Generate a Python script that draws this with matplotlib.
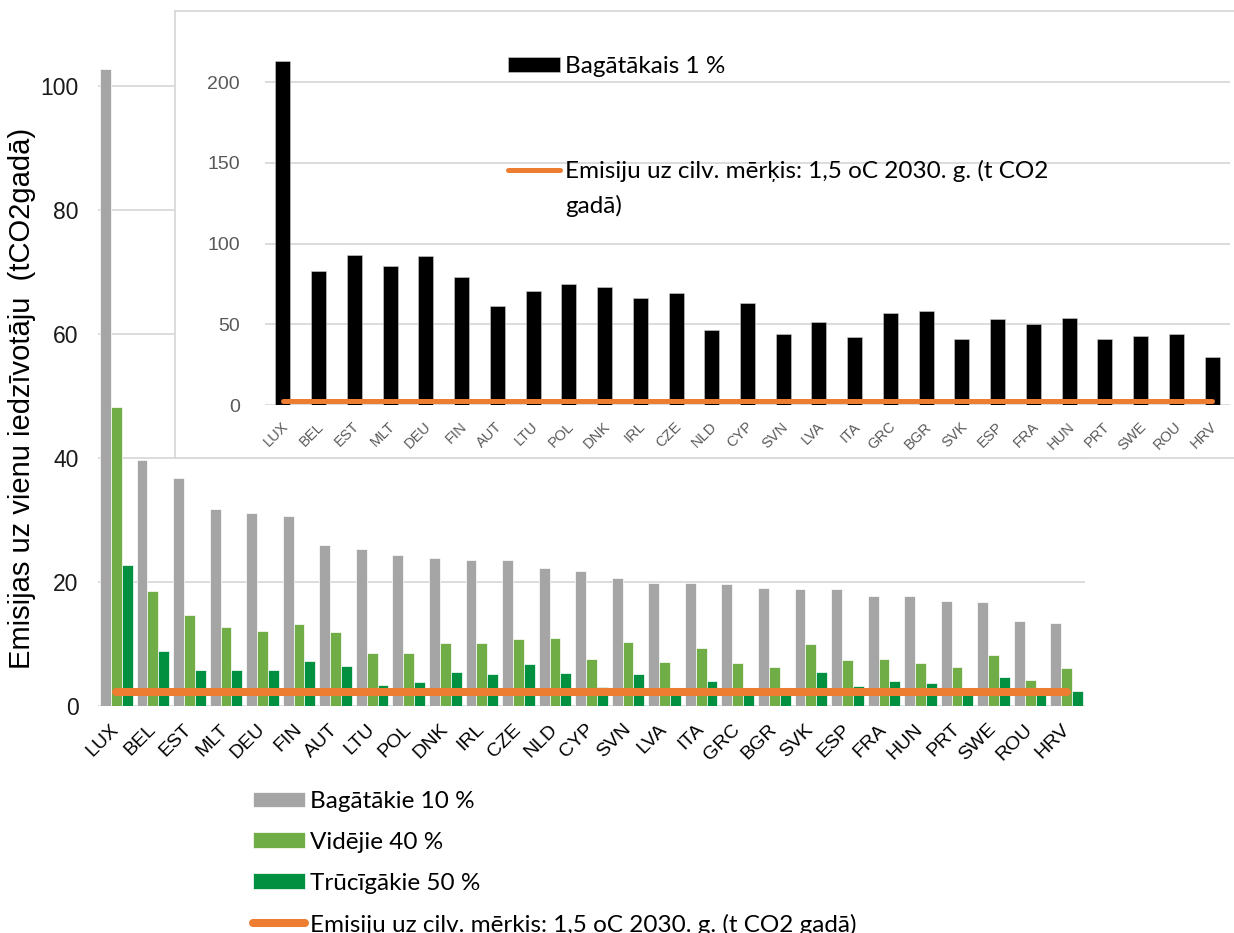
import matplotlib
matplotlib.use('Agg')
import matplotlib.pyplot as plt
import matplotlib.transforms as mtransforms
import numpy as np

# Per-capita emissions by income group (t CO2 per year)
countries = ['LUX', 'BEL', 'EST', 'MLT', 'DEU', 'FIN', 'AUT', 'LTU', 'POL', 'DNK',
             'IRL', 'CZE', 'NLD', 'CYP', 'SVN', 'LVA', 'ITA', 'GRC', 'BGR', 'SVK',
             'ESP', 'FRA', 'HUN', 'PRT', 'SWE', 'ROU', 'HRV']
top10 = [102.8, 39.7, 36.8, 31.7, 31.2, 30.7, 26.0, 25.3, 24.4, 23.8,
         23.6, 23.5, 22.2, 21.8, 20.7, 19.9, 19.8, 19.6, 19.1, 18.9,
         18.8, 17.8, 17.8, 16.9, 16.8, 13.7, 13.4]
middle40 = [48.3, 18.5, 14.6, 12.7, 12.1, 13.2, 11.9, 8.5, 8.6, 10.2,
            10.2, 10.8, 11.0, 7.6, 10.4, 7.1, 9.4, 6.9, 6.3, 10.0,
            7.4, 7.6, 7.0, 6.3, 8.2, 4.2, 6.1]
bottom50 = [22.7, 8.9, 5.8, 5.8, 5.8, 7.2, 6.5, 3.4, 3.8, 5.5,
            5.2, 6.7, 5.4, 3.0, 5.1, 2.9, 4.0, 2.5, 2.4, 5.5,
            3.2, 4.0, 3.7, 2.3, 4.6, 2.3, 2.4]
top1 = [213.0, 83.0, 92.9, 86.3, 92.1, 79.1, 61.1, 70.4, 74.8, 72.9,
        66.1, 69.2, 46.3, 62.9, 44.0, 51.2, 42.4, 56.8, 58.5, 41.2,
        53.5, 50.4, 53.9, 40.9, 43.0, 44.0, 29.8]
target = [2.2] * len(countries)

lbl_top10 = 'Bagātākie 10 %'
lbl_mid40 = 'Vidējie 40 %'
lbl_bot50 = 'Trūcīgākie 50 %'
lbl_top1 = 'Bagātākais 1 %'
lbl_target = 'Emisiju uz cilv. mērķis: 1,5 oC 2030. g. (t CO2 gadā)'
lbl_target_l1 = 'Emisiju uz cilv. mērķis: 1,5 oC 2030. g. (t CO2'
lbl_target_l2 = 'gadā)'
ylabel = 'Emisijas uz vienu iedzīvotāju  (tCO2gadā)'

c_grey = '#a5a5a5'
c_green = '#70ad47'
c_dgreen = '#00903f'
c_orange = '#ed7d31'
c_grid = '#d9d9d9'

W, H = 1234, 933
plt.rcParams['font.family'] = ['Liberation Sans', 'DejaVu Sans']
fig = plt.figure(figsize=(W / 100, H / 100), dpi=100)
leg_font = {'family': 'Lato', 'size': 17.5}


def px_rect(left, top, right, bottom):
    return [left / W, 1 - bottom / H, (right - left) / W, (bottom - top) / H]


x = np.arange(len(countries))

# main chart
ax = fig.add_axes(px_rect(98, 24, 1085, 706))
bw = 0.297
b1 = ax.bar(x - bw, top10, bw, color=c_grey, edgecolor='white', linewidth=0.5, label=lbl_top10)
b2 = ax.bar(x, middle40, bw, color=c_green, edgecolor='white', linewidth=0.5, label=lbl_mid40)
b3 = ax.bar(x + bw, bottom50, bw, color=c_dgreen, edgecolor='white', linewidth=0.5, label=lbl_bot50)
ln, = ax.plot(x, target, color=c_orange, lw=5.8, solid_capstyle='round', label=lbl_target, zorder=5)
ax.set_xlim(-0.5, len(countries) - 0.5)
ax.set_ylim(0, 110)
ax.set_yticks([0, 20, 40, 60, 80, 100])
ax.yaxis.grid(True, color=c_grid, lw=1.3)
ax.set_axisbelow(True)
for s in ax.spines.values():
    s.set_visible(False)
ax.tick_params(axis='y', length=0, pad=14, labelsize=16.5, labelcolor='#1a1a1a')
ax.tick_params(axis='x', length=0, pad=15, labelsize=14)
ax.set_xticks(x)
ax.set_xticklabels(countries, rotation=45, ha='right', va='center', rotation_mode='anchor')
fig.text(22 / W, 1 - 398 / H, ylabel, rotation=90, ha='center', va='center', fontsize=21)

# legend under main chart
fig.legend(handles=[b1, b2, b3, ln], loc='upper left', bbox_to_anchor=(253 / W, 1 - 791 / H),
           frameon=False, borderpad=0, borderaxespad=0, handlelength=2.14, handleheight=0.62,
           handletextpad=0.22, labelspacing=0.815, prop=leg_font)

# inset frame
box = fig.add_axes(px_rect(175, 11, 1240, 458))
box.set_xticks([])
box.set_yticks([])
box.set_facecolor('white')
for s in box.spines.values():
    s.set_color(c_grid)
    s.set_linewidth(1.3)

# inset chart: richest 1 %
ins = fig.add_axes(px_rect(265, 25.7, 1230, 405))
ins.patch.set_alpha(0)
r1 = ins.bar(x, top1, 0.42, color='black', edgecolor='#cfcfcf', linewidth=0.4, label=lbl_top1)
ln2, = ins.plot(x, target, color=c_orange, lw=3.6, solid_capstyle='round', label=lbl_target_l1, zorder=5)
ins.set_xlim(-0.5, len(countries) - 0.5)
ins.set_ylim(0, 235)
ins.set_yticks([0, 50, 100, 150, 200])
ins.yaxis.grid(True, color=c_grid, lw=1.3)
ins.set_axisbelow(True)
for s in ins.spines.values():
    s.set_visible(False)
ins.tick_params(axis='y', length=0, pad=18, labelsize=14, labelcolor='#595959')
ins.tick_params(axis='x', length=0, pad=14, labelsize=10.5, labelcolor='#595959')
ins.set_xticks(x)
ins.set_xticklabels(countries, rotation=45, ha='right', va='center', rotation_mode='anchor')
shift = mtransforms.ScaledTranslation(3 / 100, 0, fig.dpi_scale_trans)
for t in ins.get_xticklabels():
    t.set_transform(t.get_transform() + shift)

leg2 = ins.legend(handles=[r1, ln2], loc='upper left', bbox_to_anchor=(508 / W, 1 - 56 / H),
                  bbox_transform=fig.transFigure, frameon=False, borderpad=0, borderaxespad=0,
                  handlelength=2.14, handleheight=0.62, handletextpad=0.2, labelspacing=3.4,
                  prop=leg_font)

# second line of the wrapped legend label
fig.canvas.draw()
bb = leg2.get_texts()[1].get_window_extent()
yc = (bb.y0 + bb.y1) / 2 - 35
fig.text(bb.x0 / W, yc / H, lbl_target_l2, ha='left', va='center', **leg_font)

fig.savefig('out.png', dpi=100)
